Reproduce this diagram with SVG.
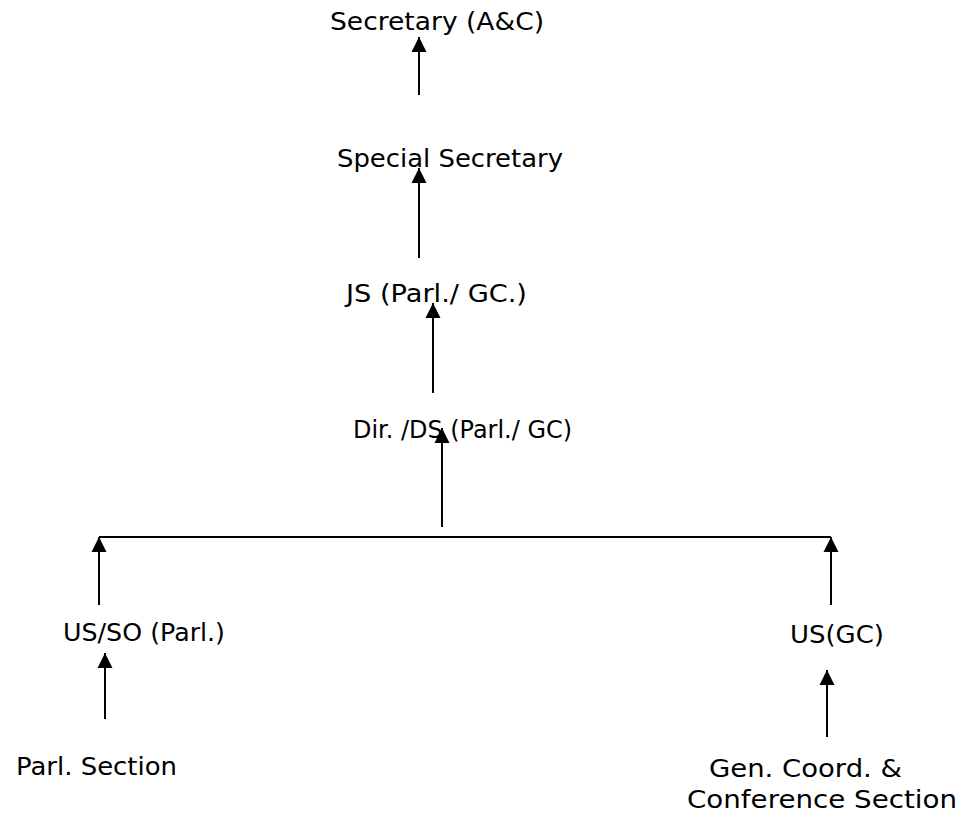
<svg xmlns="http://www.w3.org/2000/svg" width="965" height="818" viewBox="0 0 965 818">
<style>
text{font-family:"DejaVu Sans","Liberation Sans",sans-serif;font-size:25px;fill:#000}
.ln{stroke:#000;stroke-width:2;fill:none}
</style>
<defs>
<marker id="ah" markerUnits="userSpaceOnUse" markerWidth="16" markerHeight="16" viewBox="0 0 16 16" refX="15" refY="8" orient="auto">
<path d="M0,0.5 L15,8 L0,15.5 Z" fill="#000"/>
</marker>
</defs>
<rect width="965" height="818" fill="#fff"/>
<g id="n1"><text x="330" y="30" textLength="214" lengthAdjust="spacingAndGlyphs">Secretary (A&amp;C)</text></g>
<g id="n2"><text x="337" y="167" textLength="226" lengthAdjust="spacingAndGlyphs">Special Secretary</text></g>
<g id="n3"><text x="346" y="302" textLength="181" lengthAdjust="spacingAndGlyphs">JS (Parl./ GC.)</text></g>
<g id="n4"><text x="353" y="438" textLength="219" lengthAdjust="spacingAndGlyphs">Dir. /DS (Parl./ GC)</text></g>
<g id="n5"><text x="63" y="641" textLength="162" lengthAdjust="spacingAndGlyphs">US/SO (Parl.)</text></g>
<g id="n6"><text x="790" y="643" textLength="94" lengthAdjust="spacingAndGlyphs">US(GC)</text></g>
<g id="n7"><text x="16" y="775" textLength="161" lengthAdjust="spacingAndGlyphs">Parl. Section</text></g>
<g id="n8"><text x="709" y="777" textLength="193" lengthAdjust="spacingAndGlyphs">Gen. Coord. &amp;</text><text x="687" y="808" textLength="270" lengthAdjust="spacingAndGlyphs">Conference Section</text></g>
<g id="connectors">
<line class="ln" x1="419" y1="95" x2="419" y2="37" marker-end="url(#ah)"/>
<line class="ln" x1="419" y1="258" x2="419" y2="168" marker-end="url(#ah)"/>
<line class="ln" x1="433" y1="393" x2="433" y2="303" marker-end="url(#ah)"/>
<line class="ln" x1="442" y1="527" x2="442" y2="428" marker-end="url(#ah)"/>
<line class="ln" x1="99" y1="537" x2="831" y2="537"/>
<line class="ln" x1="99" y1="605" x2="99" y2="537" marker-end="url(#ah)"/>
<line class="ln" x1="831" y1="605" x2="831" y2="537" marker-end="url(#ah)"/>
<line class="ln" x1="105" y1="719" x2="105" y2="653" marker-end="url(#ah)"/>
<line class="ln" x1="827" y1="737" x2="827" y2="670" marker-end="url(#ah)"/>
</g>
</svg>
